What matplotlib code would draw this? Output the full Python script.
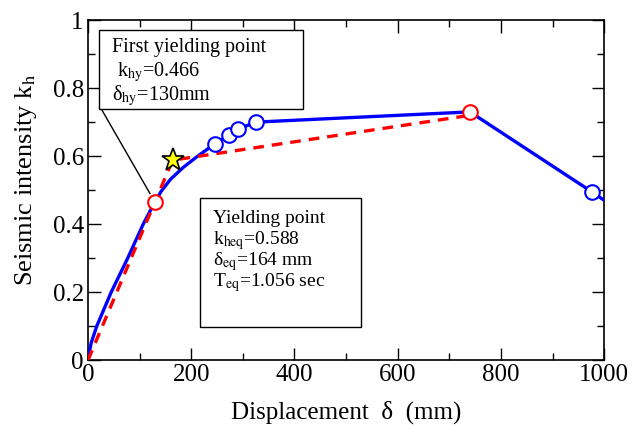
import matplotlib
matplotlib.use("Agg")
import matplotlib.pyplot as plt
from matplotlib.ticker import MultipleLocator
from matplotlib.patches import Rectangle

plt.rcParams['font.family'] = ['Liberation Serif', 'DejaVu Serif']
plt.rcParams['mathtext.fontset'] = 'stix'

# Capacity curve (blue)
curve_x = [0, 6, 17, 45, 77, 107, 130, 142, 160, 184, 210, 231, 246, 273, 291, 326, 740, 977, 1000]
curve_y = [0, 0.05, 0.1, 0.2, 0.3, 0.4, 0.466, 0.497, 0.532, 0.566, 0.597, 0.62, 0.636, 0.662, 0.68, 0.70, 0.73, 0.494, 0.47]

# Blue marker points
blue_pts_x = [246, 273, 291, 326, 977]
blue_pts_y = [0.636, 0.662, 0.68, 0.70, 0.494]

# Red marker points
red_pts_x = [130, 740]
red_pts_y = [0.466, 0.73]

# Bilinear model (red dashed)
bil_x = [0, 164, 740]
bil_y = [0, 0.588, 0.72]

# Yielding point star
star_x = [164]
star_y = [0.588]

fig = plt.figure(figsize=(6.4, 4.37), dpi=100)
ax = fig.add_axes([0.1375, 0.176, 0.8065, 0.778])

ax.plot(curve_x, curve_y, color='#0000ff', lw=2.4, zorder=3, solid_joinstyle='round')
ax.plot(bil_x, bil_y, color='#ff0000', lw=2.4, ls=(0, (3.2, 2.4)), zorder=4)
ax.plot(blue_pts_x, blue_pts_y, 'o', ms=10.5, mfc='white', mec='#0000ff', mew=1.5, zorder=5)
ax.plot(red_pts_x, red_pts_y, 'o', ms=10.5, mfc='white', mec='#ff0000', mew=1.5, zorder=5)
ax.plot(star_x, star_y, '*', ms=17, mfc='#ffff00', mec='black', mew=1.2, zorder=6)

ax.set_xlim(0, 1000)
ax.set_ylim(0, 1)
ax.xaxis.set_major_locator(MultipleLocator(200))
ax.xaxis.set_minor_locator(MultipleLocator(100))
ax.yaxis.set_major_locator(MultipleLocator(0.2))
ax.yaxis.set_minor_locator(MultipleLocator(0.1))
ax.set_yticks([0, 0.2, 0.4, 0.6, 0.8, 1.0])
ax.set_yticklabels(['0', '0.2', '0.4', '0.6', '0.8', '1'])
ax.tick_params(which='both', direction='in', top=True, right=True, labelsize=18, pad=3)
ax.tick_params(which='major', length=9, width=1)
ax.tick_params(which='minor', length=5, width=1)
for s in ax.spines.values():
    s.set_linewidth(1.2)

ax.set_xlabel(r'Displacement  δ  (mm)', fontsize=18, labelpad=10)
ax.set_ylabel(r'Seismic intensity k$_{\rm h}$', fontsize=19)
ax.yaxis.set_label_coords(-0.095, 0.53)

T = ax.transAxes
# Box 1 (first yielding point)
ax.add_patch(Rectangle((0.0213, 0.738), 0.3954, 0.2326, transform=T, fc='white',
                       ec='black', lw=1, zorder=7))
ax.plot([0.026, 0.12], [0.738, 0.49], transform=T, color='black', lw=1, zorder=2.5)
ax.text(0.0465, 0.905, 'First yielding point', transform=T, fontsize=14.5,
        va='baseline', ha='left', zorder=8)
ax.text(0.056, 0.834, 'k$_{\\rm hy}$=0.466', transform=T, fontsize=14.5,
        va='baseline', ha='left', zorder=8)
ax.text(0.0465, 0.765, 'δ$_{\\rm hy}$=130mm', transform=T, fontsize=14.5,
        va='baseline', ha='left', zorder=8)

# Box 2 (yielding point)
ax.add_patch(Rectangle((0.217, 0.097), 0.312, 0.379, transform=T, fc='white',
                       ec='black', lw=1, zorder=7))
lines2 = ['Yielding point', 'k$_{\\rm heq}$=0.588', 'δ$_{\\rm eq}$=164 mm',
          'T$_{\\rm eq}$=1.056 sec']
ys2 = [0.403, 0.341, 0.280, 0.216]
for t, yy in zip(lines2, ys2):
    ax.text(0.242, yy, t, transform=T, fontsize=14, va='baseline', ha='left', zorder=8)

fig.savefig('out.png', dpi=100)
